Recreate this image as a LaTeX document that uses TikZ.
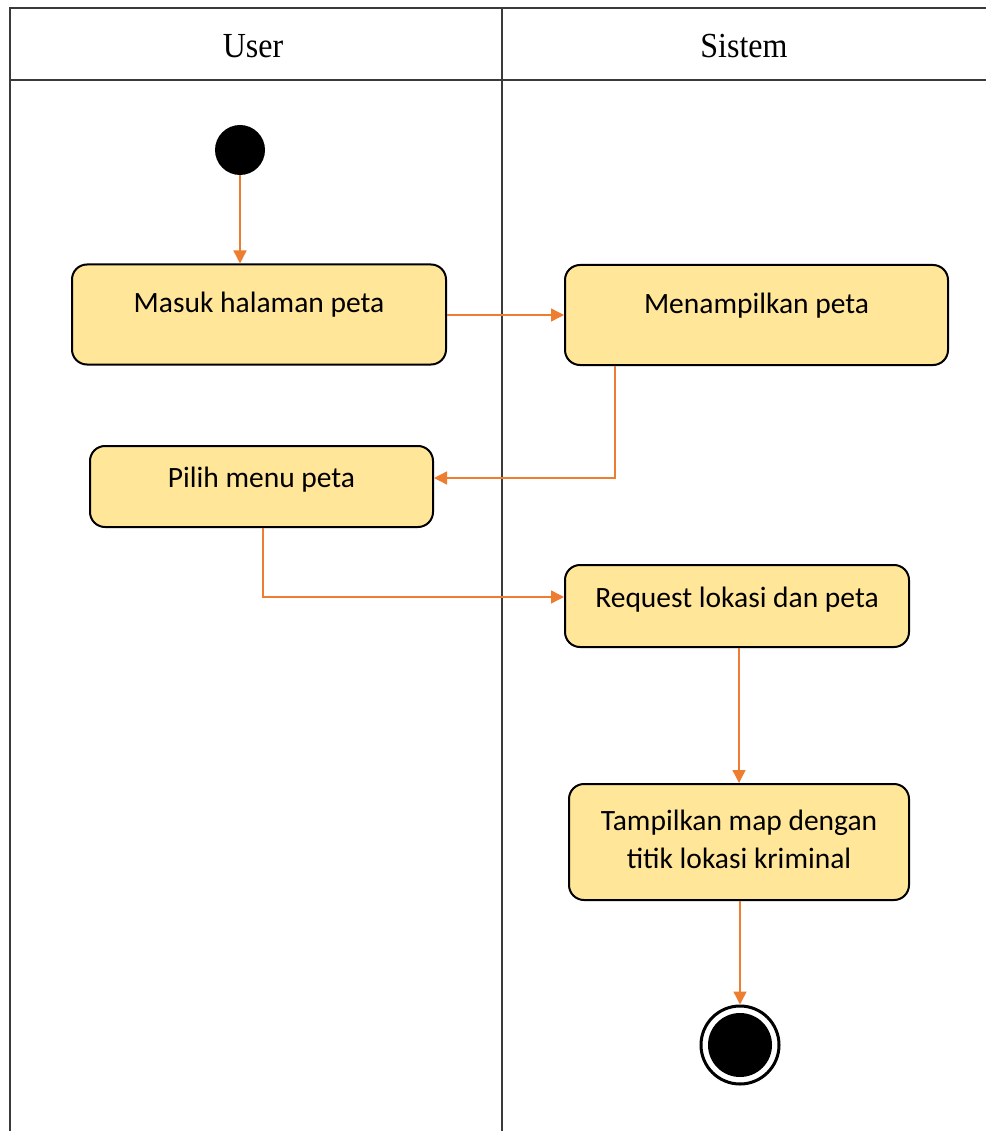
\documentclass[tikz,border=0pt]{standalone}
\usepackage{fontspec}
\setmainfont{Liberation Serif}
\newfontfamily\boxfont{Carlito}
\usetikzlibrary{arrows.meta}
\definecolor{flowcol}{HTML}{ED7D31}
\definecolor{actfill}{HTML}{FFE699}
\definecolor{lanecol}{HTML}{3A3A3A}
\tikzset{
  lane/.style={draw=lanecol, line width=1.3pt},
  act/.style={draw=black, line width=2pt, fill=actfill, rounded corners=15pt, inner sep=0pt},
  acttext/.style={font=\boxfont\fontsize{29.5}{38}\selectfont, align=center, inner sep=0pt},
  head/.style={font=\fontsize{32}{36}\selectfont, inner sep=0pt, yscale=1.1},
  flow/.style={draw=flowcol, line width=1.4pt, -{Triangle[width=13pt,length=13pt]}},
}
\begin{document}
\begin{tikzpicture}[x=1pt,y=-1pt]
  \useasboundingbox (0,0) rectangle (986,1131);
  \fill[white] (0,0) rectangle (986,1131);

  % swimlane frame
  \draw[lane] (10,1131) -- (10,8) -- (986,8);
  \draw[lane] (10,80) -- (986,80);
  \draw[lane] (502,8) -- (502,1131);
  \node[head] (hu) at (253,46) {User};
  \node[head] (hs) at (744,46) {Sistem};

  % start node
  \node[circle, fill=black, minimum size=50pt, inner sep=0pt] (start) at (240,150) {};

  % activities
  \node[act, minimum width=374pt, minimum height=100pt] (b1) at (259,314.5) {};
  \node[acttext] at (259,305) {Masuk halaman peta};
  \node[act, minimum width=383pt, minimum height=100pt] (b2) at (756.5,315) {};
  \node[acttext] at (756.5,306) {Menampilkan peta};
  \node[act, minimum width=343pt, minimum height=81pt] (b3) at (261.5,486.5) {};
  \node[acttext] at (261.5,480) {Pilih menu peta};
  \node[act, minimum width=344pt, minimum height=82pt] (b4) at (737,606) {};
  \node[acttext] at (737,600) {Request lokasi dan peta};
  \node[act, minimum width=340pt, minimum height=116pt] (b5) at (739,842) {};
  \node[acttext] at (739,839) {Tampilkan map dengan\\titik lokasi kriminal};

  % final node
  \node[circle, draw=black, line width=3pt, fill=white, minimum size=78pt, inner sep=0pt] (end) at (740,1045) {};
  \node[circle, fill=black, minimum size=64pt, inner sep=0pt] (endin) at (740,1045) {};

  % bend points
  \coordinate (k1) at (615,478);
  \coordinate (k2) at (263,597);

  % control flow
  \draw[flow] (start) -- (start |- b1.north);
  \draw[flow] (b1.east |- b2.west) -- (b2.west);
  \draw[flow] (b2.south -| k1) |- (b3.east |- k1);
  \draw[flow] (b3.south -| k2) |- (b4.west |- k2);
  \draw[flow] (b4.south -| b5.north) -- (b5.north);
  \draw[flow] (b5.south -| end.north) -- (end.north);
\end{tikzpicture}
\end{document}
